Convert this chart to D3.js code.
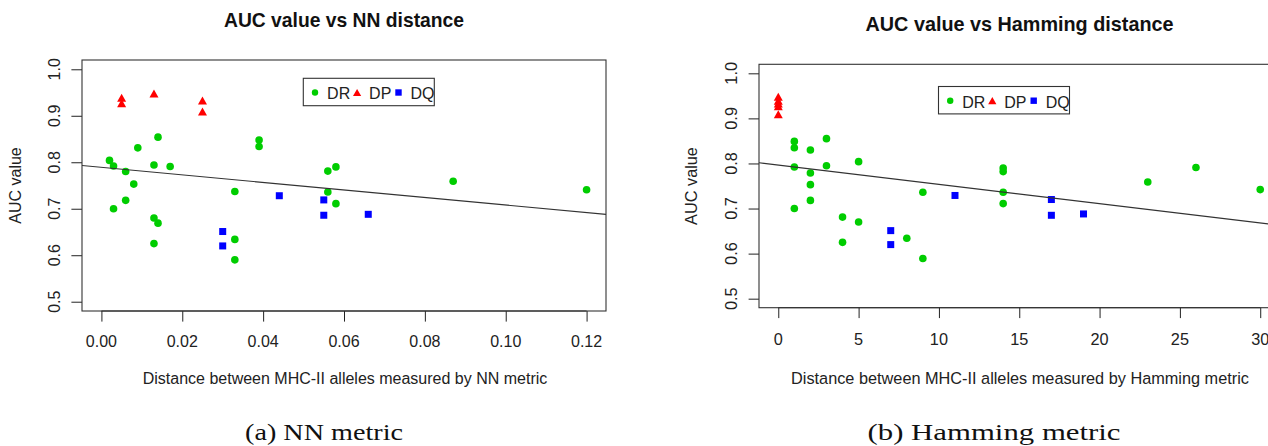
<!DOCTYPE html>
<html>
<head>
<meta charset="utf-8">
<script src="https://cdn.jsdelivr.net/npm/d3@7"></script>
<style>
  html, body { margin: 0; padding: 0; background: #fff; }
  svg { display: block; }
</style>
</head>
<body>
<svg id="chart" width="1268" height="446"></svg>
<script>
// ---------- data ----------
const seriesNames = ["DR", "DP", "DQ"];
const seriesColors = ["#00CD00", "#FF0000", "#0000FF"];

// panel (a): NN distance vs AUC
const nnDR = [[0.002,0.804],[0.003,0.792],[0.006,0.780],[0.008,0.753],[0.009,0.831],[0.013,0.794],
  [0.014,0.854],[0.017,0.791],[0.033,0.737],[0.039,0.848],[0.039,0.834],[0.056,0.781],[0.058,0.790],
  [0.087,0.759],[0.120,0.741],[0.056,0.736],[0.003,0.700],[0.006,0.718],[0.013,0.680],[0.014,0.669],
  [0.013,0.625],[0.033,0.634],[0.033,0.590],[0.058,0.711]];
const nnDP = [[0.005,0.939],[0.005,0.927],[0.013,0.948],[0.025,0.933],[0.025,0.909]];
const nnDQ = [[0.030,0.651],[0.030,0.620],[0.044,0.728],[0.055,0.719],[0.055,0.686],[0.066,0.688]];
const nnFit = [0.789, -0.81];            // intercept, slope
const nnXTicks = [0, 0.02, 0.04, 0.06, 0.08, 0.10, 0.12];

// panel (b): Hamming distance vs AUC
const hamDR = [[1,0.849],[1,0.835],[1,0.792],[2,0.830],[2,0.779],[3,0.855],[3,0.795],[5,0.804],
  [9,0.736],[1,0.700],[2,0.753],[2,0.718],[4,0.681],[5,0.670],[4,0.625],[8,0.634],[9,0.589],
  [14,0.790],[14,0.782],[14,0.736],[23,0.759],[26,0.791],[30,0.742],[14,0.711]];
const hamDP = [[0,0.948],[0,0.939],[0,0.933],[0,0.927],[0,0.909]];
const hamDQ = [[7,0.651],[7,0.620],[11,0.729],[17,0.720],[17,0.685],[19,0.688]];
const hamFit = [0.7964, -0.00428];
const hamXTicks = [0, 5, 10, 15, 20, 25, 30];

const yTicks = [0.5, 0.6, 0.7, 0.8, 0.9, 1.0];

const titles = ["AUC value vs NN distance", "AUC value vs Hamming distance"];
const xTitles = ["Distance between MHC-II alleles measured by NN metric",
                 "Distance between MHC-II alleles measured by Hamming metric"];
const yTitle = "AUC value";
const captions = ["(a) NN metric", "(b) Hamming metric"];

// ---------- layout ----------
const panels = [
  { series: [nnDR, nnDP, nnDQ], fit: nnFit, xTicks: nnXTicks, xFmt: d3.format(".2f"),
    xDom: [-0.0048, 0.1248], box: [82, 606, 60, 311],
    title: titles[0], titleX: 344, titleY: 26.7, titleLen: 240, titleSize: 19.3,
    xTitle: xTitles[0], xTitleX: 345, xTitleY: 384, axSize: 16,
    yTitleX: 20.5, xLabY: 346.7, yLabX: 60, tick: 10.6,
    legend: [303.3, 78.3], caption: captions[0], capX: 324, capLen: 158 },
  { series: [hamDR, hamDP, hamDQ], fit: hamFit, xTicks: hamXTicks, xFmt: d3.format("d"),
    xDom: [-1.2, 31.2], box: [759, 1279.5, 64.3, 307.7],
    title: titles[1], titleX: 1019.5, titleY: 30.7, titleLen: 308, titleSize: 19.8,
    xTitle: xTitles[1], xTitleX: 1020, xTitleY: 384, axSize: 16.3,
    yTitleX: 696.5, xLabY: 345, yLabX: 737.3, tick: 10.4,
    legend: [938.5, 86.5], caption: captions[1], capX: 994, capLen: 253 }
];

const svg = d3.select("#chart");
svg.append("rect").attr("width", 1268).attr("height", 446).attr("fill", "#fff");

const SANS = "'Liberation Sans', Arial, Helvetica, sans-serif";
const SERIF = "'Liberation Serif', 'Times New Roman', serif";
const INK = "#222";

function triPath(w, h) {
  return `M0,${-h/2}L${w/2},${h/2}L${-w/2},${h/2}Z`;
}

function drawMarker(g, kind, x, y, big) {
  const c = seriesColors[kind];
  if (kind === 0) {
    g.append("circle").attr("cx", x).attr("cy", y).attr("r", big ? 3.8 : 3.2).attr("fill", c);
  } else if (kind === 1) {
    g.append("path").attr("transform", `translate(${x},${y})`)
      .attr("d", big ? triPath(9, 8) : triPath(8.2, 7.2)).attr("fill", c);
  } else {
    const s = big ? 7 : 6.4;
    g.append("rect").attr("x", x - s/2).attr("y", y - s/2).attr("width", s).attr("height", s).attr("fill", c);
  }
}

panels.forEach((p, pi) => {
  const [bx0, bx1, by0, by1] = p.box;
  const x = d3.scaleLinear().domain(p.xDom).range([bx0, bx1]);
  const y = d3.scaleLinear().domain([0.48, 1.02]).range([by1, by0]);
  const g = svg.append("g");

  // clip for data region
  const clipId = "clip" + pi;
  svg.append("clipPath").attr("id", clipId)
    .append("rect").attr("x", bx0).attr("y", by0).attr("width", bx1 - bx0).attr("height", by1 - by0);

  // title
  g.append("text").attr("x", p.titleX).attr("y", p.titleY)
    .attr("text-anchor", "middle").attr("font-family", SANS).attr("font-weight", "bold")
    .attr("font-size", p.titleSize).attr("fill", "#111")
    .attr("textLength", p.titleLen).attr("lengthAdjust", "spacingAndGlyphs")
    .text(p.title);

  // x axis ticks
  const xAxis = d3.axisBottom(x).tickValues(p.xTicks).tickSize(p.tick).tickSizeOuter(0).tickFormat("");
  const gx = g.append("g").attr("transform", `translate(0,${by1})`).call(xAxis);
  gx.select(".domain").remove();
  gx.selectAll(".tick line").attr("stroke", INK).attr("stroke-width", 1);
  g.append("line").attr("x1", x(p.xTicks[0])).attr("x2", x(p.xTicks[p.xTicks.length-1]))
    .attr("y1", by1).attr("y2", by1).attr("stroke", INK);
  g.selectAll(".xlab" + pi).data(p.xTicks).enter().append("text")
    .attr("x", d => x(d)).attr("y", p.xLabY)
    .attr("text-anchor", "middle").attr("font-family", SANS).attr("font-size", p.axSize)
    .attr("fill", INK).text(d => p.xFmt(d));

  // y axis ticks
  const yAxis = d3.axisLeft(y).tickValues(yTicks).tickSize(p.tick).tickSizeOuter(0).tickFormat("");
  const gy = g.append("g").attr("transform", `translate(${bx0},0)`).call(yAxis);
  gy.select(".domain").remove();
  gy.selectAll(".tick line").attr("stroke", INK).attr("stroke-width", 1);
  g.selectAll(".ylab" + pi).data(yTicks).enter().append("text")
    .attr("transform", d => `translate(${p.yLabX},${y(d)}) rotate(-90)`)
    .attr("text-anchor", "middle").attr("font-family", SANS).attr("font-size", p.axSize)
    .attr("fill", INK).text(d => d3.format(".1f")(d));

  // axis titles
  g.append("text").attr("x", p.xTitleX).attr("y", p.xTitleY)
    .attr("text-anchor", "middle").attr("font-family", SANS).attr("font-size", p.axSize)
    .attr("fill", INK).text(p.xTitle);
  g.append("text").attr("transform", `translate(${p.yTitleX},${(by0 + by1)/2}) rotate(-90)`)
    .attr("text-anchor", "middle").attr("font-family", SANS).attr("font-size", p.axSize)
    .attr("fill", INK).text(yTitle);

  // data
  const gd = g.append("g").attr("clip-path", `url(#${clipId})`);
  p.series.forEach((pts, si) => {
    pts.forEach(d => drawMarker(gd, si, x(d[0]), y(d[1]), true));
  });

  // regression line
  const [a, b] = p.fit;
  gd.append("line")
    .attr("x1", x(p.xDom[0])).attr("y1", y(a + b * p.xDom[0]))
    .attr("x2", x(p.xDom[1])).attr("y2", y(a + b * p.xDom[1]))
    .attr("stroke", "#333").attr("stroke-width", 1.1);

  // box
  g.append("rect").attr("x", bx0).attr("y", by0).attr("width", bx1 - bx0).attr("height", by1 - by0)
    .attr("fill", "none").attr("stroke", "#333").attr("stroke-width", 1.1);

  // legend
  const [lx, ly] = p.legend;
  const lg = g.append("g");
  lg.append("rect").attr("x", lx).attr("y", ly).attr("width", 131).attr("height", 27.4)
    .attr("fill", "#fff").attr("stroke", "#333").attr("stroke-width", 1.1);
  const markOff = [11.7, 53.8, 95.2];
  const textOff = [23.8, 65.8, 107.2];
  seriesNames.forEach((name, si) => {
    drawMarker(lg, si, lx + markOff[si], ly + 14.2, false);
    lg.append("text").attr("x", lx + textOff[si]).attr("y", ly + 21)
      .attr("font-family", SANS).attr("font-size", 16).attr("fill", INK).text(name);
  });

  // caption
  svg.append("text").attr("x", p.capX).attr("y", 440)
    .attr("text-anchor", "middle").attr("font-family", SERIF).attr("font-size", 23.5)
    .attr("fill", "#111").attr("textLength", p.capLen).attr("lengthAdjust", "spacingAndGlyphs")
    .text(p.caption);
});
</script>
</body>
</html>
